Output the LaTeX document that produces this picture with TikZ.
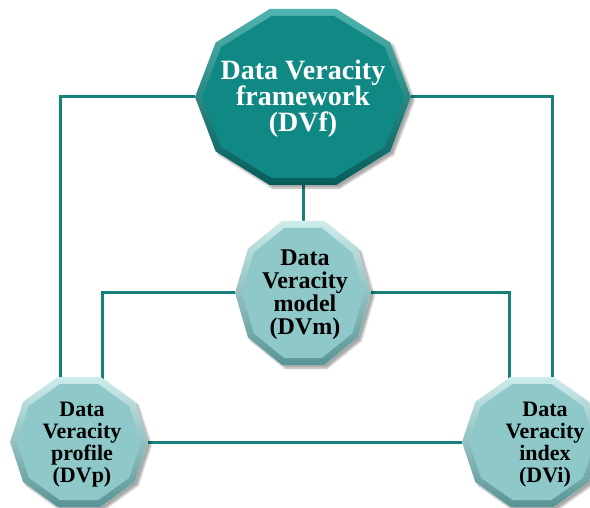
\documentclass[tikz,border=0pt]{standalone}
\usepackage{fontspec}
\setmainfont{Liberation Serif}
\usetikzlibrary{shadows.blur,backgrounds}
\definecolor{conncol}{RGB}{22,128,123}
\definecolor{darkin}{RGB}{16,136,131}
\definecolor{darktop}{RGB}{80,180,175}
\definecolor{darkbot}{RGB}{6,92,90}
\definecolor{lightin}{RGB}{142,200,200}
\definecolor{lighttop}{RGB}{205,236,236}
\definecolor{lightbot}{RGB}{88,148,148}
\newcommand\DecaPath[4]{({(#1)-(#3)},{#2}) -- ({(#1)-0.809*(#3)},{(#2)-0.618*(#4)}) -- ({(#1)-0.309*(#3)},{(#2)-(#4)}) -- ({(#1)+0.309*(#3)},{(#2)-(#4)}) -- ({(#1)+0.809*(#3)},{(#2)-0.618*(#4)}) -- ({(#1)+(#3)},{#2}) -- ({(#1)+0.809*(#3)},{(#2)+0.618*(#4)}) -- ({(#1)+0.309*(#3)},{(#2)+(#4)}) -- ({(#1)-0.309*(#3)},{(#2)+(#4)}) -- ({(#1)-0.809*(#3)},{(#2)+0.618*(#4)}) -- cycle}
% #1 name, #2 cx, #3 cy, #4 half width, #5 half height, #6 colour set (dark/light)
\newcommand\DecaShape[6]{%
  \fill[white,blur shadow={shadow xshift=3pt,shadow yshift=-3pt,shadow opacity=35,shadow blur steps=6}] \DecaPath{#2}{#3}{#4}{#5};
  \shade[top color=#6top,bottom color=#6bot] \DecaPath{#2}{#3}{#4}{#5};
  \fill[#6in] \DecaPath{#2}{#3}{(#4)-7}{(#5)-7};
  \coordinate (#1-w) at ({(#2)-(#4)},{#3});
  \coordinate (#1-e) at ({(#2)+(#4)},{#3});
  \coordinate (#1-n) at ({#2},{(#3)-(#5)});
  \coordinate (#1-s) at ({#2},{(#3)+(#5)});
}
\tikzset{
  conn/.style={draw=conncol,line width=3pt},
  toptext/.style={align=center,text=white,font=\bfseries\fontsize{28}{26}\selectfont,inner sep=0pt},
  midtext/.style={align=center,text=black,font=\bfseries\fontsize{24}{23}\selectfont,inner sep=0pt},
  lowtext/.style={align=center,text=black,font=\bfseries\fontsize{22}{22}\selectfont,inner sep=0pt}
}
\begin{document}
\begin{tikzpicture}[x=1pt,y=-1pt]
\useasboundingbox (0,0) rectangle (590,508);
\DecaShape{f}{303}{97}{108}{88}{dark}
\node[toptext] (f) at (303,99) {Data Veracity\\framework\\(DVf)};
\DecaShape{m}{303}{293}{68}{72}{light}
\node[midtext] (m) at (305,295) {Data\\Veracity\\model\\(DVm)};
\DecaShape{p}{79}{442}{69}{65}{light}
\node[lowtext] (p) at (82,445) {Data\\Veracity\\profile\\(DVp)};
\DecaShape{i}{532}{442}{70}{65}{light}
\node[lowtext] (i) at (545,445) {Data\\Veracity\\index\\(DVi)};
\coordinate (p-a) at (60,430);
\coordinate (p-b) at (102,430);
\coordinate (i-a) at (552,430);
\coordinate (i-b) at (509,430);
\begin{scope}[on background layer]
\draw[conn] (f-w) -| (p-a);
\draw[conn] (f-e) -| (i-a);
\draw[conn] (f-s) -- (m-n);
\draw[conn] (m-w) -| (p-b);
\draw[conn] (m-e) -| (i-b);
\draw[conn] (p-e) -- (i-w);
\end{scope}
\end{tikzpicture}
\end{document}
